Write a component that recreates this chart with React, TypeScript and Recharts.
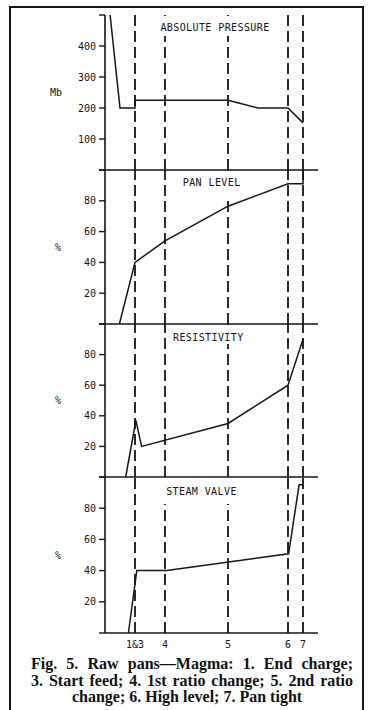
import React from 'react';
import { LineChart, Line, XAxis, YAxis, ReferenceLine } from 'recharts';

// time axis in arbitrary units (event "1&3" = 10)
const eventTimes = [10, 20, 41, 61, 66];
const eventLabels = ['1&3', '4', '5', '6', '7'];

const pressureT = [1.7, 5, 10, 10, 41, 51, 61, 66];
const pressureMb = [500, 200, 200, 225, 225, 200, 200, 152];

const levelT = [4.8, 10, 20, 41, 61, 66, 66];
const levelPct = [0, 40, 54, 76.5, 91, 91, 100];

const resistT = [6.9, 10.3, 12.2, 41, 61, 66];
const resistPct = [0, 37, 20, 35, 60, 90];

const steamT = [7.8, 10.6, 20.6, 61.2, 64.7, 66];
const steamPct = [0, 40, 40, 50.8, 95, 95];

const pressureTicks = [0, 100, 200, 300, 400, 500];
const pctTicks = [0, 20, 40, 60, 80, 100];

const INK = '#151515';
const MONO = '"DejaVu Sans Mono", monospace';

const toRows = (t: number[], v: number[]) => t.map((x, i) => ({ t: x, v: v[i] }));

type PanelProps = {
  top: number;
  height: number;
  rows: { t: number; v: number }[];
  ticks: number[];
  unit: string;
  unitOffset: number;
  last?: boolean;
};

function Panel({ top, height, rows, ticks, unit, unitOffset, last }: PanelProps) {
  const mTop = 5;
  const mBottom = last ? 0 : 5;
  const xH = last ? 24 : 1;
  const yMax = ticks[ticks.length - 1];
  return (
    <div style={{ position: 'absolute', left: 0, top: top - mTop }}>
      <LineChart
        width={371}
        height={height + mTop + mBottom + xH}
        data={rows}
        margin={{ top: mTop, right: 53, bottom: mBottom, left: 45 }}
      >
        <XAxis
          type="number"
          dataKey="t"
          domain={[0, 71]}
          ticks={eventTimes}
          interval={0}
          height={xH}
          axisLine={{ stroke: INK, strokeWidth: 1.6 }}
          tickLine={false}
          tick={last ? { fill: INK, fontSize: 10, fontFamily: MONO } : false}
          tickFormatter={(v: number) => eventLabels[eventTimes.indexOf(v)] ?? ''}
        />
        <YAxis
          width={60}
          domain={[0, yMax]}
          ticks={ticks}
          interval={0}
          tickSize={6}
          tickMargin={3}
          axisLine={{ stroke: INK, strokeWidth: 1.6 }}
          tickLine={{ stroke: INK, strokeWidth: 1.4 }}
          tick={{ fill: INK, fontSize: 10, fontFamily: MONO }}
          tickFormatter={(v: number) => (v === 0 || v === yMax ? '' : String(v))}
          label={{
            value: unit,
            position: 'insideLeft',
            offset: unitOffset,
            fill: INK,
            fontSize: 10,
            fontFamily: MONO,
          }}
        />
        {eventTimes.map((x) => (
          <ReferenceLine key={x} x={x} stroke={INK} strokeWidth={1.8} strokeDasharray="11 5" />
        ))}
        <Line
          dataKey="v"
          type="linear"
          dot={false}
          stroke={INK}
          strokeWidth={1.5}
          isAnimationActive={false}
        />
      </LineChart>
    </div>
  );
}

// panel title with a white patch so the dashed lines start below it
function Title({ text, cx, cy, box }: { text: string; cx: number; cy: number; box: number[] }) {
  return (
    <>
      <div
        style={{
          position: 'absolute',
          left: box[0],
          top: box[1],
          width: box[2] - box[0],
          height: box[3] - box[1],
          background: '#fff',
        }}
      />
      <div
        style={{
          position: 'absolute',
          left: cx - 100,
          width: 200,
          top: cy - 5.8,
          lineHeight: '12px',
          fontSize: 10,
          fontFamily: MONO,
          letterSpacing: 0.4,
          textAlign: 'center',
          color: INK,
        }}
      >
        {text}
      </div>
    </>
  );
}

const captionLine: React.CSSProperties = {
  position: 'absolute',
  left: 31,
  width: 322,
  height: 16.5,
  lineHeight: '16.5px',
  fontFamily: '"Liberation Serif", serif',
  fontWeight: 'bold',
  fontSize: 16,
  color: '#111',
  whiteSpace: 'nowrap',
};

export default function App() {
  return (
    <div
      style={{
        position: 'fixed',
        left: 0,
        top: 0,
        width: 371,
        height: 710,
        overflow: 'hidden',
        background: '#fff',
      }}
    >
      <Panel top={15} height={155} rows={toRows(pressureT, pressureMb)} ticks={pressureTicks} unit="Mb" unitOffset={5} />
      <Panel top={170} height={154} rows={toRows(levelT, levelPct)} ticks={pctTicks} unit="%" unitOffset={10} />
      <Panel top={324} height={153} rows={toRows(resistT, resistPct)} ticks={pctTicks} unit="%" unitOffset={10} />
      <Panel top={477} height={156} rows={toRows(steamT, steamPct)} ticks={pctTicks} unit="%" unitOffset={10} last />

      <Title text="ABSOLUTE PRESSURE" cx={215} cy={27.7} box={[157, 16, 273, 36]} />
      <Title text="PAN LEVEL" cx={211.7} cy={183} box={[180, 171, 244, 196]} />
      <Title text="RESISTIVITY" cx={208.3} cy={337.7} box={[170, 325, 247, 344]} />
      <Title text="STEAM VALVE" cx={201.5} cy={491.7} box={[161, 478, 241, 504]} />

      <div style={{ ...captionLine, top: 656, textAlign: 'justify', textAlignLast: 'justify' }}>
        Fig. 5. Raw pans—Magma: 1. End charge;
      </div>
      <div style={{ ...captionLine, top: 672.5, textAlign: 'justify', textAlignLast: 'justify' }}>
        3. Start feed; 4. 1st ratio change; 5. 2nd ratio
      </div>
      <div style={{ ...captionLine, top: 689, left: 20, width: 334, textAlign: 'center' }}>
        change; 6. High level; 7. Pan tight
      </div>

      <svg
        width={371}
        height={710}
        style={{ position: 'absolute', left: 0, top: 0, pointerEvents: 'none' }}
      >
        <rect x={10} y={7} width={353} height={720} fill="none" stroke={INK} strokeWidth={2} />
      </svg>
    </div>
  );
}
